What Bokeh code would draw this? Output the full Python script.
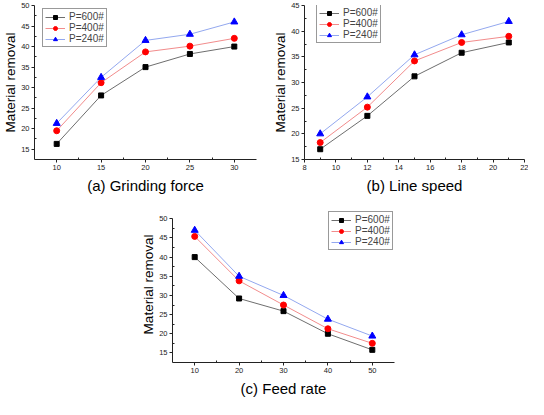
from bokeh.plotting import figure
from bokeh.layouts import column, row
from bokeh.models import Range1d, FixedTicker, Legend, LegendItem, Spacer
from bokeh.embed import file_html
from bokeh.resources import INLINE

series_names = ["P=600#", "P=400#", "P=240#"]

force_x = [10, 15, 20, 25, 30]
force_p600 = [16.3, 28.1, 35.0, 38.2, 40.0]
force_p400 = [19.5, 31.2, 38.7, 40.1, 42.0]
force_p240 = [21.3, 32.5, 41.5, 43.0, 46.0]

speed_x = [9, 12, 15, 18, 21]
speed_p600 = [17.0, 23.5, 31.2, 35.8, 37.8]
speed_p400 = [18.3, 25.2, 34.2, 37.8, 39.0]
speed_p240 = [20.0, 27.2, 35.4, 39.3, 41.9]

feed_x = [10, 20, 30, 40, 50]
feed_p600 = [40.0, 29.2, 25.9, 20.0, 15.8]
feed_p400 = [45.4, 33.8, 27.5, 21.3, 17.5]
feed_p240 = [47.0, 35.0, 30.0, 23.8, 19.4]

force_xticks = [10, 15, 20, 25, 30]
force_yticks = [15, 20, 25, 30, 35, 40, 45, 50]
speed_xticks = [8, 10, 12, 14, 16, 18, 20, 22]
speed_yticks = [15, 20, 25, 30, 35, 40, 45]
feed_xticks = [10, 20, 30, 40, 50]
feed_yticks = [15, 20, 25, 30, 35, 40, 45, 50]

LINE_COLORS = ["#6e6e6e", "#f28c8c", "#93a8ef"]
MARK_COLORS = ["#000000", "#ff0000", "#0000ff"]
MARKERS = ["square", "circle", "triangle"]
MSIZES = [5, 6, 7]
FONT = "Liberation Sans"


def panel(x, ys, xr, yr, ybounds, xt, yt, xminor, yminor, title, w, h,
          bl, br, bt, bb, legend_loc):
    p = figure(width=w, height=h, output_backend="svg", toolbar_location=None,
               x_range=Range1d(*xr), y_range=Range1d(*yr),
               min_border_left=bl, min_border_right=br, min_border_top=bt,
               min_border_bottom=bb)
    p.outline_line_color = None
    p.grid.visible = False
    p.background_fill_color = "white"
    p.border_fill_color = "white"
    items = []
    for i, y in enumerate(ys):
        ln = p.line(x, y, line_color=LINE_COLORS[i], line_width=1)
        sc = p.scatter(x, y, marker=MARKERS[i], size=MSIZES[i],
                       fill_color=MARK_COLORS[i], line_color=MARK_COLORS[i])
        items.append(LegendItem(label=series_names[i], renderers=[ln, sc]))
    p.xaxis.ticker = FixedTicker(ticks=xt, minor_ticks=xminor)
    p.yaxis.ticker = FixedTicker(ticks=yt, minor_ticks=yminor)
    p.yaxis.bounds = ybounds
    for ax in (p.xaxis, p.yaxis):
        ax.axis_line_color = "#222222"
        ax.axis_line_width = 1
        ax.major_tick_line_color = "#222222"
        ax.minor_tick_line_color = "#222222"
        ax.major_tick_out = 3
        ax.major_tick_in = 0
        ax.minor_tick_out = 0
        ax.minor_tick_in = 2
        ax.major_label_text_font = FONT
        ax.major_label_text_font_size = "7.5px"
        ax.major_label_text_color = "#222222"
        ax.major_label_standoff = 2
        ax.axis_label_text_font = FONT
        ax.axis_label_text_font_style = "normal"
        ax.axis_label_text_color = "#000000"
    p.xaxis.axis_label = title
    p.xaxis.axis_label_text_font_size = "15px"
    p.xaxis.axis_label_standoff = 4
    p.yaxis.axis_label = "Material removal"
    p.yaxis.axis_label_text_font_size = "13.5px"
    p.yaxis.axis_label_standoff = 0
    leg = Legend(items=items, location=legend_loc)
    leg.label_text_font = FONT
    leg.label_text_font_size = "10px"
    leg.glyph_height = 10
    leg.glyph_width = 20
    leg.label_height = 10
    leg.label_standoff = 4
    leg.spacing = 0
    leg.padding = 2
    leg.margin = 0
    leg.border_line_color = "#333333"
    leg.border_line_width = 1
    leg.background_fill_alpha = 1
    p.add_layout(leg)
    return p


pa = panel(force_x, [force_p600, force_p400, force_p240], (7.5, 32.5), (12.5, 50), (12.5, 50),
           force_xticks, force_yticks, [12.5, 17.5, 22.5, 27.5],
           [17.5, 22.5, 27.5, 32.5, 37.5, 42.5, 47.5],
           "(a) Grinding force", 268, 196, 30, 12, 5, 32, (8, 112))
pb = panel(speed_x, [speed_p600, speed_p400, speed_p240], (8, 22), (15, 45), (15, 45),
           speed_xticks, speed_yticks, [9, 11, 13, 15, 17, 19, 21],
           [17.5, 22.5, 27.5, 32.5, 37.5, 42.5],
           "(b) Line speed", 260, 196, 36, 4, 4, 32, (12, 116))
pc = panel(feed_x, [feed_p600, feed_p400, feed_p240], (5, 55), (12.5, 53.2), (12.5, 50),
           feed_xticks, feed_yticks, [15, 25, 35, 45],
           [17.5, 22.5, 27.5, 32.5, 37.5, 42.5, 47.5],
           "(c) Feed rate", 268, 203, 36, 10, 10, 30, (156, 112))

layout = column(row(pa, pb), row(Spacer(width=136, height=203), pc))
open("out.html", "w").write(file_html(layout, INLINE))
